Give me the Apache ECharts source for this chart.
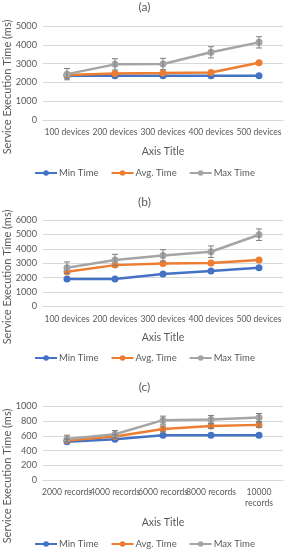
<!DOCTYPE html>
<html><head><meta charset="utf-8">
<script src="https://cdn.jsdelivr.net/npm/echarts@6/dist/echarts.min.js"></script>
<style>html,body{margin:0;padding:0;background:#fff}#c{width:289px;height:550px}</style>
</head><body><div id="c"></div>
<script>
const categoriesDevices = ['100 devices','200 devices','300 devices','400 devices','500 devices'];
const categoriesRecords = ['2000 records','4000 records','6000 records','8000 records','10000 records'];
const seriesNames = ['Min Time','Avg. Time','Max Time'];
const panelTitles = ['(a)','(b)','(c)'];
// panel (a)
const aMin = [2350,2350,2350,2350,2350];
const aAvg = [2400,2480,2500,2530,3040];
const aMax = [2440,2960,2980,3600,4130];
const aMaxErr = [300,300,300,300,300];
// panel (b)
const bMin = [1900,1910,2250,2460,2690];
const bAvg = [2410,2870,2990,3010,3220];
const bMax = [2690,3220,3540,3800,4980];
const bMaxErr = [400,400,400,400,400];
// panel (c)
const cMin = [522,555,609,609,609];
const cAvg = [536,591,695,736,750];
const cMax = [559,623,814,823,850];
const cAvgErr = [20,25,40,35,35];
const cMaxErr = [50,50,55,55,55];
const yMax = [5000,6000,1000];
const yInterval = [1000,1000,200];

const colors = ['#4472C4','#ED7D31','#A5A5A5'];
const txt = '#595959';
const FONT = 'Lato';

const panels = [
  {cats: categoriesDevices, data:[aMin,aAvg,aMax], err:[null,null,aMaxErr], top:26, h:94, nameGap:26, legendTop:163, titleTop:1, yTitleC:87},
  {cats: categoriesDevices, data:[bMin,bAvg,bMax], err:[null,null,bMaxErr], top:220, h:86.5, nameGap:26, legendTop:348, titleTop:196, yTitleC:277},
  {cats: categoriesRecords, data:[cMin,cAvg,cMax], err:[null,cAvgErr,cMaxErr], top:406.5, h:73.5, nameGap:37, legendTop:534, titleTop:381, yTitleC:476}
];

const grid=[], xAxis=[], yAxis=[], series=[], title=[], legend=[], graphic=[];
panels.forEach((p,i)=>{
  grid.push({left:43,right:6,top:p.top,height:p.h});
  xAxis.push({type:'category',gridIndex:i,data:p.cats,
    axisLine:{lineStyle:{color:'#D9D9D9'}},axisTick:{show:false},
    axisLabel:{color:txt,fontFamily:FONT,fontSize:8.6,margin:7,interval:0,lineHeight:11,
      formatter:v=>v.length>12?v.replace(' ','\n'):v},
    name:'Axis Title',nameLocation:'middle',nameGap:p.nameGap,
    nameTextStyle:{color:txt,fontFamily:FONT,fontSize:10.5}});
  yAxis.push({type:'value',gridIndex:i,min:0,max:yMax[i],interval:yInterval[i],
    axisLine:{show:false},axisTick:{show:false},
    splitLine:{lineStyle:{color:'#D9D9D9'}},
    axisLabel:{color:txt,fontFamily:FONT,fontSize:9.2,margin:6,formatter:v=>String(v)}});
  title.push({text:panelTitles[i],left:'center',top:p.titleTop,padding:0,
    textStyle:{color:txt,fontFamily:FONT,fontSize:12,fontWeight:'normal'}});
  legend.push({data:seriesNames,top:p.legendTop,left:'center',itemWidth:22,itemHeight:7,itemGap:12,
    textStyle:{color:txt,fontFamily:FONT,fontSize:9.5,padding:[0,0,0,-3]}});
  graphic.push({type:'text',rotation:Math.PI/2,position:[7,p.yTitleC],
    style:{text:'Service Execution Time (ms)',fill:txt,font:'11px '+FONT,textAlign:'center',textVerticalAlign:'middle'}});
  seriesNames.forEach((n,k)=>{
    series.push({name:n,type:'line',xAxisIndex:i,yAxisIndex:i,data:p.data[k],
      symbol:'circle',symbolSize:7,color:colors[k],lineStyle:{width:2.5,color:colors[k]},
      itemStyle:{color:colors[k]},z:3});
    if(p.err[k]){
      const vals=p.data[k], errs=p.err[k];
      series.push({name:n,type:'custom',xAxisIndex:i,yAxisIndex:i,z:4,
        data:vals.map((v,j)=>[j,v-errs[j],v+errs[j]]),
        renderItem:(params,api)=>{
          const lo=api.coord([api.value(0),api.value(1)]);
          const hi=api.coord([api.value(0),api.value(2)]);
          const w=3;
          const st={stroke:'#7F7F7F',lineWidth:1};
          return {type:'group',children:[
            {type:'line',shape:{x1:lo[0],y1:lo[1],x2:hi[0],y2:hi[1]},style:st},
            {type:'line',shape:{x1:lo[0]-w,y1:lo[1],x2:lo[0]+w,y2:lo[1]},style:st},
            {type:'line',shape:{x1:hi[0]-w,y1:hi[1],x2:hi[0]+w,y2:hi[1]},style:st}
          ]};
        }});
    }
  });
});

const chart = echarts.init(document.getElementById('c'),null,{renderer:'canvas'});
chart.setOption({animation:false,color:colors,title,legend,grid,xAxis,yAxis,series,graphic});
</script></body></html>
